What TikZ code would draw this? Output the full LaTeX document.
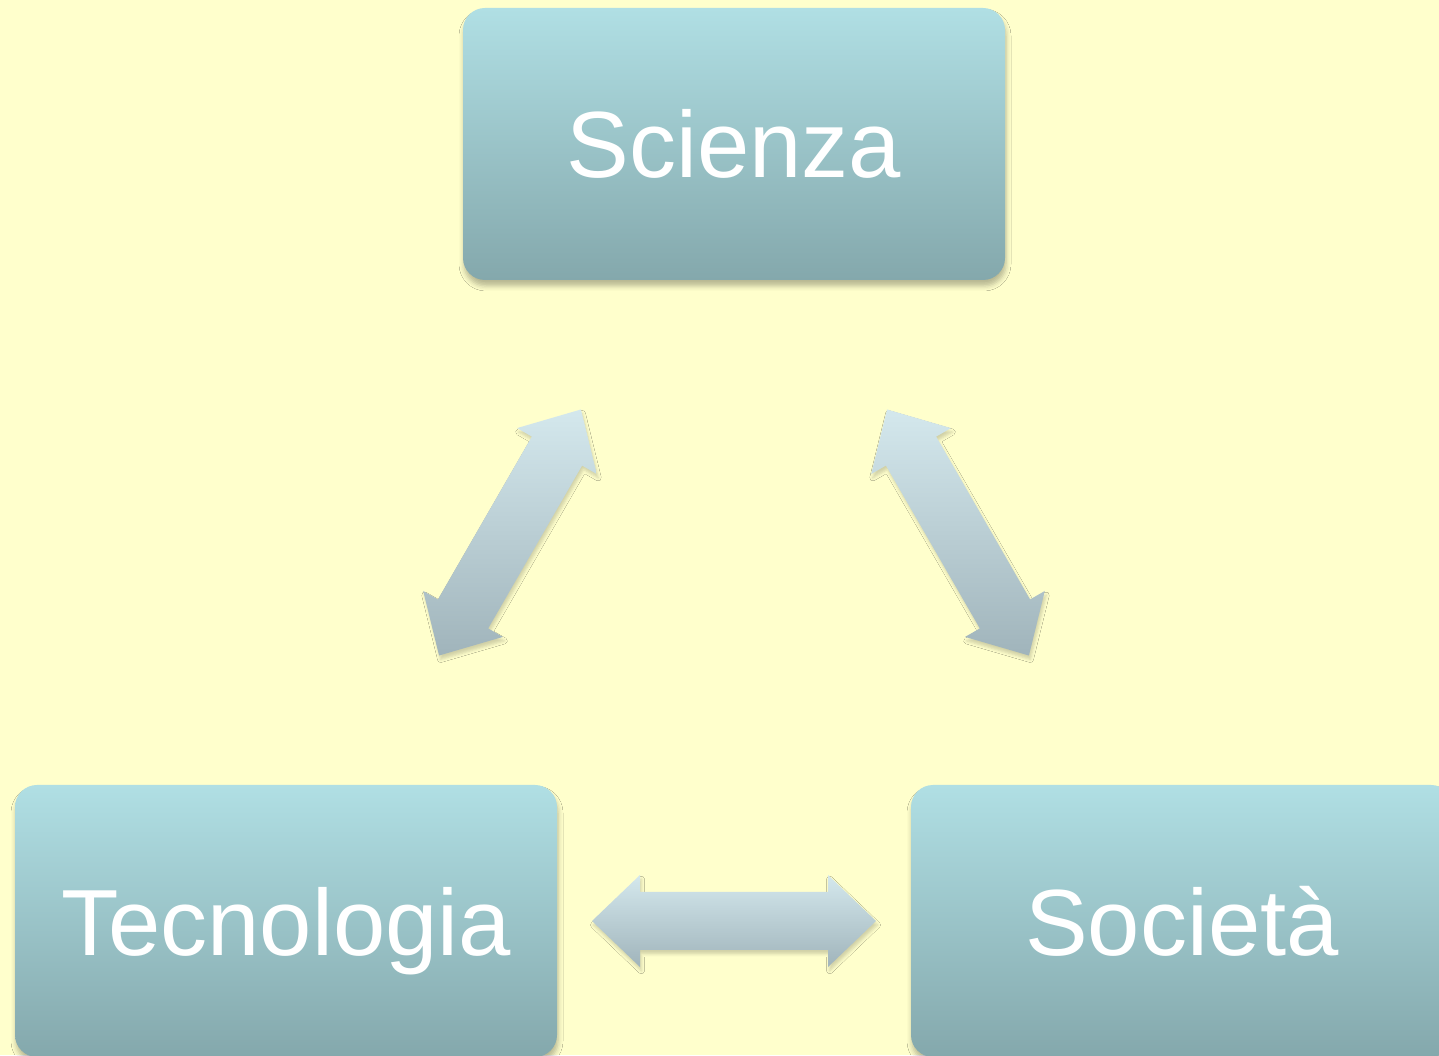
\documentclass[tikz,border=0pt]{standalone}
\usepackage{fontspec}
\setmainfont{Liberation Sans}
\usetikzlibrary{calc,shadows.blur}
\definecolor{sfondo}{RGB}{255,255,204}
\definecolor{boxtop}{RGB}{176,223,228}
\definecolor{boxbot}{RGB}{132,168,172}
\definecolor{arrtop}{RGB}{212,232,237}
\definecolor{arrbot}{RGB}{160,180,187}
\tikzset{
  box/.style={rectangle, rounded corners=0.44cm, minimum width=10.84cm,
    minimum height=5.44cm, top color=boxtop, bottom color=boxbot,
    text=white, font=\fontsize{53.5}{60}\selectfont,
    text height=1.36cm, text depth=0pt,
    blur shadow={shadow xshift=0.02cm, shadow yshift=-0.12cm,
      shadow blur radius=0.1cm, shadow opacity=28}},
  pfeil/.style={top color=arrtop, bottom color=arrbot,
    blur shadow={shadow xshift=0.03cm, shadow yshift=-0.08cm,
      shadow blur radius=0.06cm, shadow opacity=18}}
}
\begin{document}
\begin{tikzpicture}
	% Hintergrund
	\useasboundingbox (0,0) rectangle (28.78,21.1);
	\fill[sfondo] (0,0) rectangle (28.78,21.1);
	% Kaesten
	\node[box] (sci) at (14.68,18.22) {Scienza};
	\node[box] (tec) at (5.72,2.68) {Tecnologia};
	\node[box] (soc) at (23.64,2.68) {Società};
	%Pfeile
	\foreach \a/\b in {tec/sci, sci/soc, tec/soc} {
	  \coordinate (p) at ($(\a.center)!0.5!(\b.center)!2.84cm!(\a.center)$);
	  \coordinate (q) at ($(\a.center)!0.5!(\b.center)!2.84cm!(\b.center)$);
	  \coordinate (pk) at ($(p)!0.96cm!(q)$);
	  \coordinate (qk) at ($(q)!0.96cm!(p)$);
	  \path[pfeil] (p) -- ($(pk)!0.92cm!90:(q)$) -- ($(pk)!0.58cm!90:(q)$)
	    -- ($(qk)!0.58cm!-90:(p)$) -- ($(qk)!0.92cm!-90:(p)$) -- (q)
	    -- ($(qk)!0.92cm!90:(p)$) -- ($(qk)!0.58cm!90:(p)$)
	    -- ($(pk)!0.58cm!-90:(q)$) -- ($(pk)!0.92cm!-90:(q)$) -- cycle;
	}
\end{tikzpicture}
\end{document}
